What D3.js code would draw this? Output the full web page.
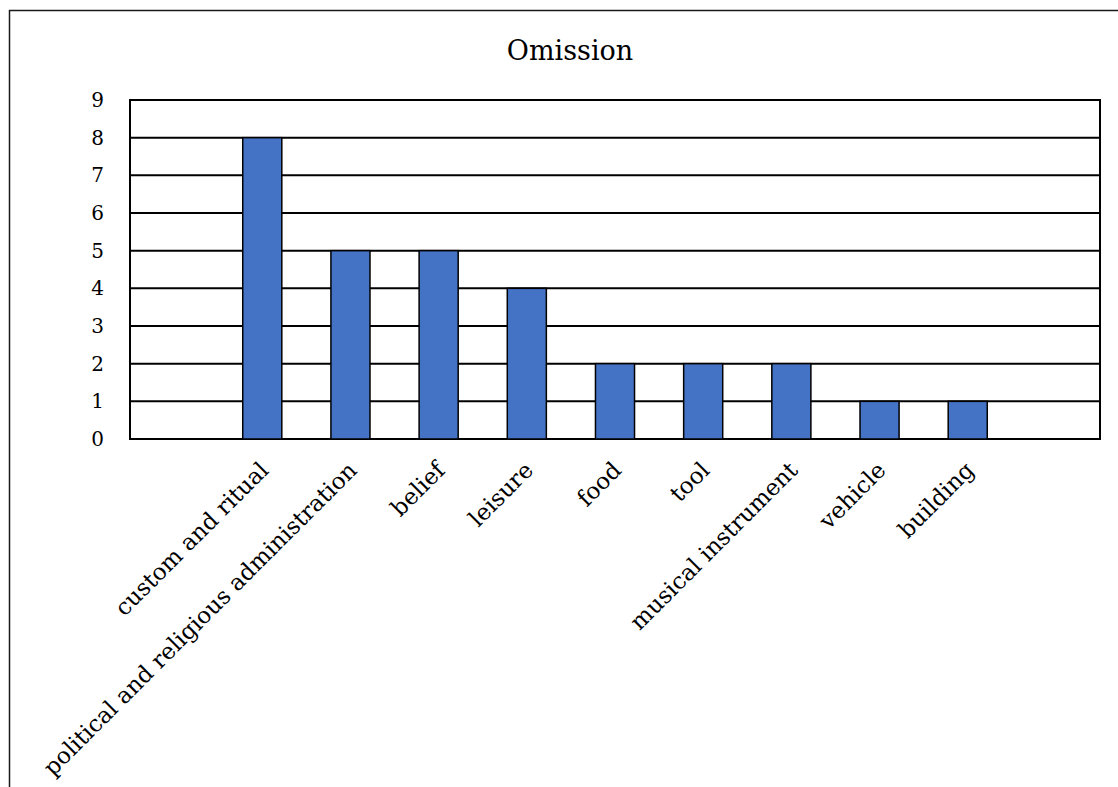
<!DOCTYPE html>
<html>
<head>
<meta charset="utf-8">
<script src="https://cdn.jsdelivr.net/npm/d3@7/dist/d3.min.js"></script>
<style>
  html, body { margin: 0; padding: 0; background: #fff; }
  svg { display: block; }
  text { font-family: "DejaVu Serif", "Liberation Serif", serif; fill: #000; }
</style>
</head>
<body>
<svg id="chart" width="1118" height="787"></svg>
<script>
// Omission counts per cultural category
const categories = ["custom and ritual", "political and religious administration", "belief", "leisure", "food", "tool", "musical instrument", "vehicle", "building"];
const values = [8, 5, 5, 4, 2, 2, 2, 1, 1];
const yTicks = [0, 1, 2, 3, 4, 5, 6, 7, 8, 9];
const title = "Omission";

const svg = d3.select("#chart");
const serif = "DejaVu Serif, Liberation Serif, serif";

// Chart frame (runs past the visible window on the right and bottom)
svg.append("rect")
  .attr("x", 9.5).attr("y", 10.5)
  .attr("width", 1122).attr("height", 800)
  .attr("fill", "#fff").attr("stroke", "#1a1a1a").attr("stroke-width", 1.5);

const plot = { left: 130, right: 1100, top: 100, bottom: 439 };

// One empty slot before and after the categories
const slots = ["", ...categories, " "];
const x = d3.scaleBand().domain(slots).range([plot.left, plot.right]).paddingInner(0.557).paddingOuter(0.2785);
const y = d3.scaleLinear().domain([0, 9]).range([plot.bottom, plot.top]);

// Title
svg.append("text")
  .attr("x", 570).attr("y", 60)
  .attr("text-anchor", "middle")
  .style("font-size", "27px")
  .text(title);

// Horizontal gridlines
svg.append("g").selectAll("line").data(yTicks).join("line")
  .attr("x1", plot.left).attr("x2", plot.right)
  .attr("y1", d => y(d)).attr("y2", d => y(d))
  .attr("stroke", "#000").attr("stroke-width", 2);

// Plot area border
svg.append("rect")
  .attr("x", plot.left).attr("y", plot.top)
  .attr("width", plot.right - plot.left).attr("height", plot.bottom - plot.top)
  .attr("fill", "none").attr("stroke", "#000").attr("stroke-width", 2);

// Bars
svg.append("g").selectAll("rect").data(categories).join("rect")
  .attr("x", d => x(d))
  .attr("y", (d, i) => y(values[i]))
  .attr("width", x.bandwidth())
  .attr("height", (d, i) => y(0) - y(values[i]))
  .attr("fill", "#4472C4")
  .attr("stroke", "#000").attr("stroke-width", 1.5);

// Y axis labels
const yAxis = d3.axisLeft(y).tickValues(yTicks).tickSize(0).tickPadding(26);
svg.append("g")
  .attr("transform", `translate(${plot.left},0)`)
  .call(yAxis)
  .call(g => g.select(".domain").remove())
  .call(g => g.selectAll("text")
    .style("font-family", serif)
    .style("font-size", "20px").attr("fill", "#000"));

// Category labels, rotated
const xAxis = d3.axisBottom(x).tickValues(categories).tickSize(0).tickPadding(0);
svg.append("g")
  .attr("transform", `translate(0,${plot.bottom})`)
  .call(xAxis)
  .call(g => g.select(".domain").remove())
  .call(g => g.selectAll("text")
    .style("font-family", serif)
    .style("font-size", "23px").attr("fill", "#000")
    .attr("text-anchor", "end")
    .attr("dy", "0.35em")
    .attr("y", 0)
    .attr("transform", "translate(2,27) rotate(-45)"));
</script>
</body>
</html>
